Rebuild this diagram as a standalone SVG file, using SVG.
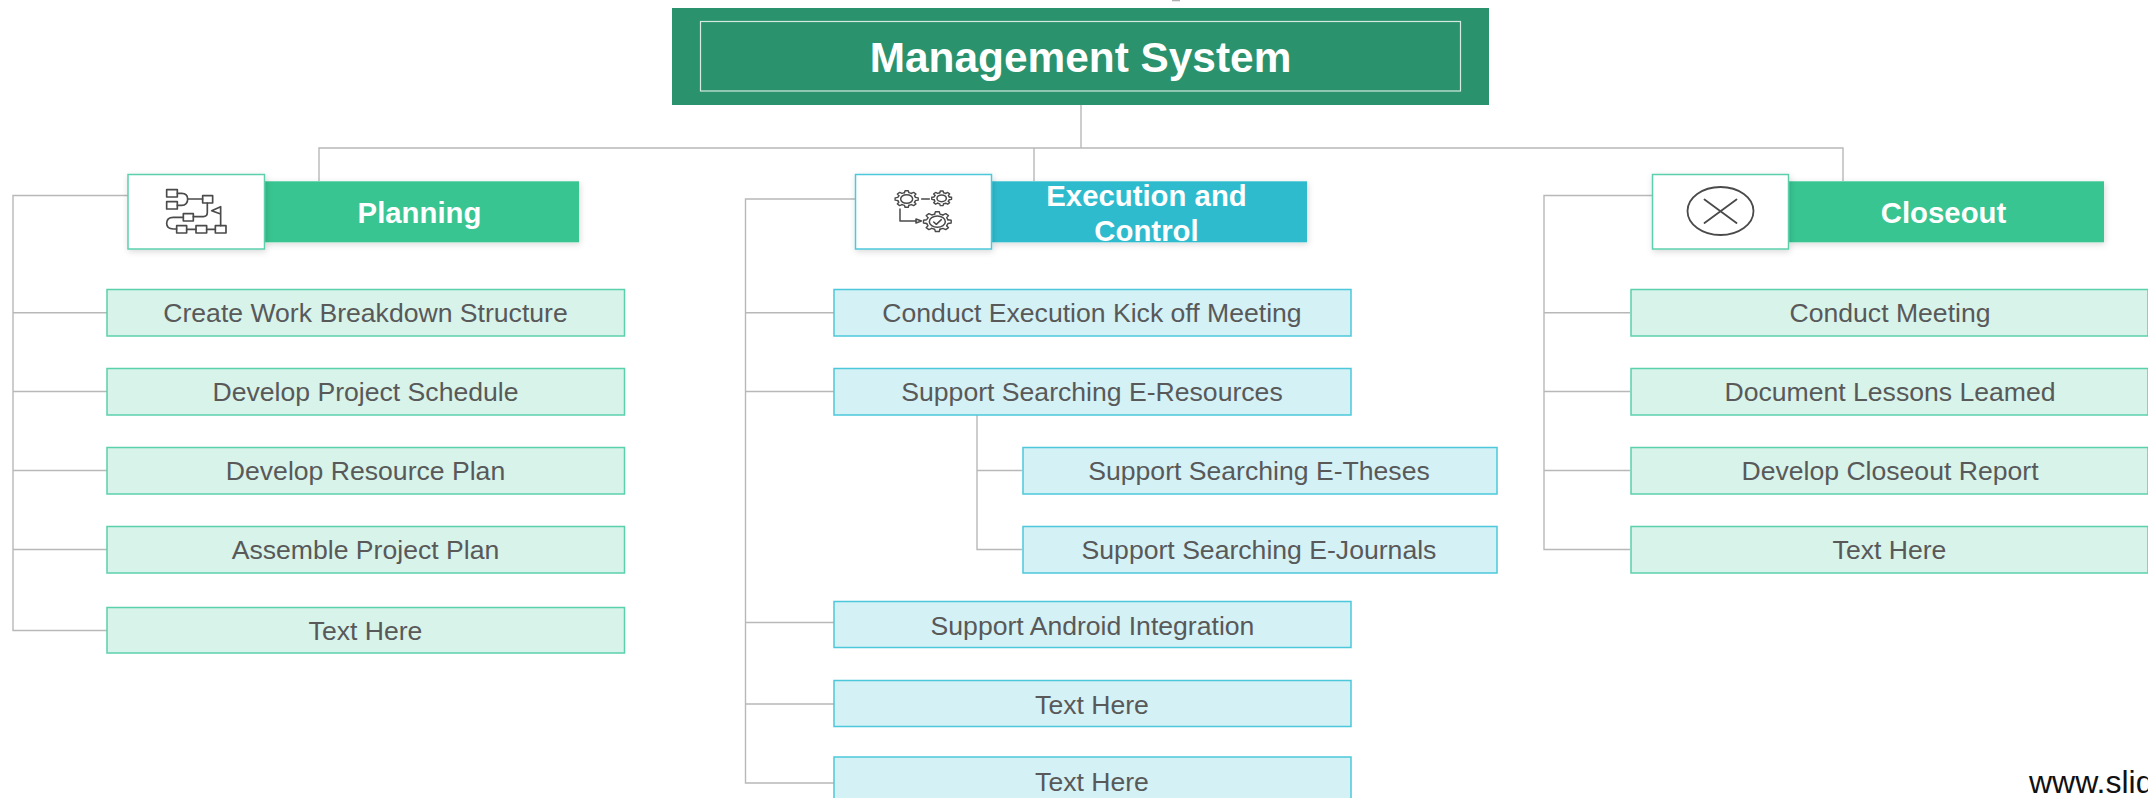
<svg xmlns="http://www.w3.org/2000/svg" xmlns:xlink="http://www.w3.org/1999/xlink" width="2148" height="798" viewBox="0 0 2148 798">
<style>
text{font-family:"Liberation Sans",Arial,sans-serif;text-anchor:middle}
.conn{fill:none;stroke:#B8B8B8;stroke-width:1.4}
.bar{font-size:29.33px;font-weight:bold;fill:#fff}
.child{font-size:26.6px;fill:#595959}
.g rect.box{fill:#D7F3EA;stroke:#5BD0AC;stroke-width:1.5}
.b rect.box{fill:#D4F1F6;stroke:#4CC8DA;stroke-width:1.5}
.ic{fill:none;stroke:#4A4A4A;stroke-width:5;stroke-linejoin:round;stroke-linecap:round}
.th{stroke-width:4.500}
.gr{fill:none;stroke:#4A4A4A;stroke-width:1.4;stroke-linejoin:round;vector-effect:non-scaling-stroke}
</style>
<defs>
<filter id="sh" x="-10%" y="-15%" width="120%" height="135%"><feDropShadow dx="1" dy="2" stdDeviation="3" flood-color="#000" flood-opacity="0.15"/></filter>
<path id="t" class="gr" d="M.757,-.189L.99,-.139L.99,.139L.757,.189L.669,.402"/>
<g id="gear"><use href="#t"/><use href="#t" transform="rotate(45)"/><use href="#t" transform="rotate(90)"/><use href="#t" transform="rotate(135)"/><use href="#t" transform="rotate(180)"/><use href="#t" transform="rotate(225)"/><use href="#t" transform="rotate(270)"/><use href="#t" transform="rotate(315)"/></g>
</defs>
<rect width="2148" height="798" fill="#fff"/>
<rect x="1172" y="0" width="8" height="1.300" fill="#B0B0B0"/>
<g id="connectors" class="conn">
<path d="M1081 105V148M319 181V148H1843V181M1034 148V181"/>
<path d="M128 195.500H13V630.500H107M13 312.700H107M13 391.500H107M13 470.500H107M13 549.500H107"/>
<path d="M855 199H745.500V783H834M745.500 312.700H834M745.500 391.500H834M745.500 622.500H834M745.500 704H834"/>
<path d="M977 414V549.500H1022M977 470.500H1022"/>
<path d="M1652 195.500H1544V549.500H1630M1544 312.700H1630M1544 391.500H1630M1544 470.500H1630"/>
</g>
<g id="root">
<rect x="672" y="8" width="817" height="97" fill="#2A936D"/>
<rect x="700.500" y="21.500" width="760" height="69.500" fill="none" stroke="#D5EAE1" stroke-width="1.200"/>
<text x="1080.500" y="72" font-size="42.4" font-weight="bold" fill="#fff">Management System</text>
</g>
<g id="planning">
<rect x="264" y="181.300" width="315" height="61" fill="#38C591" filter="url(#sh)"/>
<rect x="128" y="174.500" width="136.500" height="74.500" fill="#fff" stroke="#5BD0AC" stroke-width="1.500" filter="url(#sh)"/>
<text class="bar" x="419.500" y="222.500">Planning</text>
<g class="ic" transform="translate(120 165) scale(.3333)">
<rect x="140" y="74" width="32" height="22"/><rect x="140" y="110" width="32" height="22"/>
<path d="M172 85H185Q203 85 203 102Q203 121 185 121H172M203 102H248"/>
<rect x="248" y="92" width="30" height="22"/>
<path d="M262 114V142Q262 155 250 155H220"/>
<rect x="190" y="146" width="30" height="22"/>
<path d="M190 157H160Q140 157 140 175Q140 192 160 192H170"/>
<rect x="170" y="182" width="30" height="22"/><path d="M200 193H228"/>
<rect x="228" y="182" width="32" height="22"/><path d="M260 193H286"/>
<rect x="286" y="182" width="32" height="22"/>
<path d="M302 182V125L275 137L302 147"/>
</g>
</g>
<g id="execution">
<rect x="991" y="181.300" width="316" height="61" fill="#2EBBCE" filter="url(#sh)"/>
<rect x="855.500" y="174.500" width="136" height="74.500" fill="#fff" stroke="#4CC8DA" stroke-width="1.500" filter="url(#sh)"/>
<text class="bar" x="1146.500" y="205.500">Execution and</text>
<text class="bar" x="1146.500" y="240.500">Control</text>
<g class="ic th" transform="translate(850 165) scale(.3333)">
<use href="#gear" transform="translate(170 102) scale(35 25)"/>
<ellipse cx="170" cy="102" rx="18" ry="13"/>
<use href="#gear" transform="translate(275 100) scale(30 22)"/>
<ellipse cx="275" cy="100" rx="14" ry="10"/>
<use href="#gear" transform="translate(262 170) scale(42 30)"/>
<ellipse cx="262" cy="170" rx="24" ry="17"/>
<path d="M215 102H238M150 132V168H198M251 171L259 178L274 164"/>
<path d="M198 162L214 168L198 174Z"/>
</g>
</g>
<g id="closeout">
<rect x="1788" y="181.300" width="316" height="61" fill="#38C591" filter="url(#sh)"/>
<rect x="1652.500" y="174.500" width="136" height="74.500" fill="#fff" stroke="#5BD0AC" stroke-width="1.500" filter="url(#sh)"/>
<text class="bar" x="1943.500" y="222.500">Closeout</text>
<g fill="none" stroke="#4A4A4A" stroke-width="1.800" stroke-linecap="round"><ellipse cx="1720.500" cy="211" rx="33" ry="24"/><path d="M1704.500 199.500L1736.500 223M1736.500 199.500L1704.500 223"/></g>
</g>
<g class="g">
<g id="p1"><rect class="box" x="107" y="289.500" width="517.500" height="46.500"/><text class="child" x="365.500" y="322">Create Work Breakdown Structure</text></g>
<g id="p2"><rect class="box" x="107" y="368.500" width="517.500" height="46.500"/><text class="child" x="365.500" y="401">Develop Project Schedule</text></g>
<g id="p3"><rect class="box" x="107" y="447.500" width="517.500" height="46.500"/><text class="child" x="365.500" y="480">Develop Resource Plan</text></g>
<g id="p4"><rect class="box" x="107" y="526.500" width="517.500" height="46.500"/><text class="child" x="365.500" y="559">Assemble Project Plan</text></g>
<g id="p5"><rect class="box" x="107" y="607.500" width="517.500" height="45.500"/><text class="child" x="365.500" y="640">Text Here</text></g>
<g id="c1"><rect class="box" x="1631" y="289.500" width="517" height="46.500"/><text class="child" x="1890" y="322">Conduct Meeting</text></g>
<g id="c2"><rect class="box" x="1631" y="368.500" width="517" height="46.500"/><text class="child" x="1890" y="401">Document Lessons Leamed</text></g>
<g id="c3"><rect class="box" x="1631" y="447.500" width="517" height="46.500"/><text class="child" x="1890" y="480">Develop Closeout Report</text></g>
<g id="c4"><rect class="box" x="1631" y="526.500" width="517" height="46.500"/><text class="child" x="1889.500" y="559">Text Here</text></g>
</g>
<g class="b">
<g id="e1"><rect class="box" x="834" y="289.500" width="517" height="46.500"/><text class="child" x="1092" y="322">Conduct Execution Kick off Meeting</text></g>
<g id="e2"><rect class="box" x="834" y="368.500" width="517" height="46.500"/><text class="child" x="1092" y="401">Support Searching E-Resources</text></g>
<g id="e3"><rect class="box" x="1023" y="447.500" width="474" height="46.500"/><text class="child" x="1259" y="480">Support Searching E-Theses</text></g>
<g id="e4"><rect class="box" x="1023" y="526.500" width="474" height="46.500"/><text class="child" x="1259" y="559">Support Searching E-Journals</text></g>
<g id="e5"><rect class="box" x="834" y="601.500" width="517" height="46"/><text class="child" x="1092.500" y="634.500">Support Android Integration</text></g>
<g id="e6"><rect class="box" x="834" y="680.500" width="517" height="46"/><text class="child" x="1092" y="713.500">Text Here</text></g>
<g id="e7"><rect class="box" x="834" y="757" width="517" height="46"/><text class="child" x="1092" y="790.500">Text Here</text></g>
</g>
<text x="2029" y="793" font-size="32" fill="#111" style="text-anchor:start">www.slid</text>
</svg>
